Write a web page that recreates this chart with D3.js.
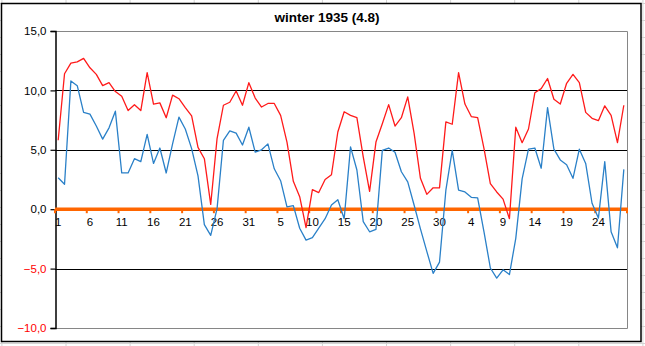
<!DOCTYPE html>
<html>
<head>
<meta charset="utf-8">
<script src="https://cdn.jsdelivr.net/npm/d3@7/dist/d3.min.js"></script>
<style>
  html, body { margin: 0; padding: 0; background: #ffffff; }
  svg { display: block; }
  text { font-family: "Liberation Sans", Arial, sans-serif; }
</style>
</head>
<body>
<svg id="chart" width="645" height="346"></svg>
<script>
// ---- data ----
const title = "winter 1935 (4.8)";
const months = [
  { days: 31 }, // December
  { days: 31 }, // January
  { days: 28 }  // February
];
const categories = [];
months.forEach(m => { for (let d = 1; d <= m.days; d++) categories.push(String(d)); });

const redSeries = [5.8, 11.4, 12.3, 12.4, 12.7, 11.9, 11.35, 10.4, 10.65, 9.9, 9.5, 8.3, 8.8, 8.3, 11.5, 8.85, 8.95, 7.7, 9.6, 9.3, 8.55, 7.85, 5.2,
  4.25, 0.4, 5.95, 8.75, 9.0, 9.95, 8.75, 10.65, 9.35, 8.6, 8.9, 8.9, 7.9, 5.65, 2.35, 1.05, -1.55, 1.65, 1.4, 2.5, 2.9, 6.5,
  8.2, 7.9, 7.7, 4.4, 1.5, 5.65, 7.2, 8.8, 7.0, 7.7, 9.45, 6.4, 2.6, 1.25, 1.8, 1.8, 7.35, 7.15, 11.5, 8.85, 7.8, 7.7,
  5.1, 2.15, 1.45, 0.85, -0.8, 6.9, 5.6, 6.75, 9.8, 10.15, 11.0, 9.25, 8.85, 10.6, 11.35, 10.65, 8.15, 7.65, 7.45, 8.7, 7.9, 5.6, 8.75];

const blueSeries = [2.65, 2.1, 10.8, 10.4, 8.15, 8.0, 7.0, 5.9, 6.85, 8.25, 3.05, 3.05, 4.25, 4.0, 6.3, 3.85, 5.15, 3.05, 5.5, 7.75, 6.75, 5.1, 2.8,
  -1.3, -2.2, 0.05, 5.8, 6.6, 6.4, 5.4, 6.9, 4.8, 5.0, 5.5, 3.4, 2.4, 0.2, 0.3, -1.6, -2.6, -2.4, -1.6, -0.8, 0.35, 0.8,
  -0.8, 5.25, 3.3, -1.05, -1.9, -1.7, 4.95, 5.15, 4.8, 3.15, 2.3, 0.35, -1.65, -3.55, -5.4, -4.45, 1.6, 4.95, 1.6, 1.45, 1.0, 0.95,
  -1.9, -4.95, -5.8, -5.1, -5.5, -2.45, 2.55, 5.05, 5.15, 3.45, 8.55, 5.05, 4.15, 3.75, 2.6, 5.05, 3.85, 0.5, -0.75, 4.0, -1.9, -3.25, 3.35];

const yTicks = [-10, -5, 0, 5, 10, 15];
const yGridValues = [-5, 5, 10];
const xLabelEvery = 5;

// ---- layout ----
const svg = d3.select("#chart");
const W = 645, H = 346;
const plot = { left: 55, right: 627, top: 31, bottom: 328 };

// spreadsheet background grid
const bg = svg.append("g");
bg.append("rect").attr("width", W).attr("height", H).attr("fill", "#ffffff");
d3.range(-1, 10).forEach(k => {
  const xx = 66 + 64.1 * k;
  bg.append("line").attr("x1", xx).attr("x2", xx).attr("y1", 0).attr("y2", H)
    .attr("stroke", "#d4d4d4").attr("stroke-width", 1);
});
d3.range(0, 21).forEach(k => {
  const yy = 3.5 + 17 * k;
  bg.append("line").attr("x1", 0).attr("x2", W).attr("y1", yy).attr("y2", yy)
    .attr("stroke", "#d4d4d4").attr("stroke-width", 1);
});

// chart box
svg.append("rect").attr("x", 1.5).attr("y", 3.5).attr("width", 639.5).attr("height", 338)
  .attr("fill", "#ffffff").attr("stroke", "#000000").attr("stroke-width", 1.5);

// title
svg.append("text").attr("x", 327).attr("y", 22).attr("text-anchor", "middle")
  .attr("font-size", 13.5).attr("font-weight", "bold").attr("fill", "#000")
  .text(title);

// scales
const x = d3.scaleBand().domain(d3.range(categories.length)).range([plot.left, plot.right]).padding(0);
const cx = i => x(i) + x.bandwidth() / 2;
const y = d3.scaleLinear().domain([-10, 15]).range([plot.bottom, plot.top]);

// plot border (grey) top/right/bottom
svg.append("path")
  .attr("d", `M${plot.left},${y(15) + 0.5}H${plot.right + 0.5}V${y(-10) + 0.5}H${plot.left}`)
  .attr("fill", "none").attr("stroke", "#868686").attr("stroke-width", 1);

// gridlines
svg.append("g").selectAll("line").data(yGridValues).join("line")
  .attr("x1", plot.left).attr("x2", plot.right)
  .attr("y1", d => Math.round(y(d)) + 0.5).attr("y2", d => Math.round(y(d)) + 0.5)
  .attr("stroke", "#000").attr("stroke-width", 1.2);

// y axis
const fmt = d => d3.format(".1f")(d).replace(".", ",");
const yAxis = svg.append("g").attr("transform", `translate(${plot.left + 0.5},0)`)
  .call(d3.axisLeft(y).tickValues(yTicks).tickSize(5).tickPadding(4).tickFormat(fmt));
yAxis.select(".domain").attr("stroke", "#000").attr("stroke-width", 1.5);
yAxis.selectAll(".tick line").attr("stroke", "#000").attr("stroke-width", 1.2);
yAxis.selectAll(".tick text")
  .attr("font-size", 11.5).attr("font-family", "'Liberation Sans', Arial, sans-serif")
  .attr("fill", d => d < 0 ? "#ff0000" : "#000");

// x axis (orange line at 0)
const y0 = y(0);
const xAxis = svg.append("g").attr("transform", `translate(0,${y0})`);
xAxis.append("line").attr("x1", plot.left).attr("x2", plot.right + 1)
  .attr("y1", 0).attr("y2", 0).attr("stroke", "#ff6600").attr("stroke-width", 3.5);
xAxis.selectAll("line.tk").data(d3.range(0, categories.length + 1, xLabelEvery)).join("line")
  .attr("class", "tk")
  .attr("x1", i => i < categories.length ? x(i) : plot.right)
  .attr("x2", i => i < categories.length ? x(i) : plot.right)
  .attr("y1", 0).attr("y2", 4).attr("stroke", "#ff6600").attr("stroke-width", 2);
xAxis.selectAll("text").data(d3.range(0, categories.length, xLabelEvery)).join("text")
  .attr("x", i => cx(i)).attr("y", 17).attr("text-anchor", "middle")
  .attr("font-size", 11.5).attr("fill", "#000")
  .text(i => categories[i]);

// series
const line = d3.line().x((d, i) => cx(i)).y(d => y(d));
svg.append("path").datum(blueSeries).attr("d", line)
  .attr("fill", "none").attr("stroke", "#2a80c8").attr("stroke-width", 1.3).attr("stroke-linejoin", "round");
svg.append("path").datum(redSeries).attr("d", line)
  .attr("fill", "none").attr("stroke", "#ff1a1a").attr("stroke-width", 1.3).attr("stroke-linejoin", "round");
</script>
</body>
</html>
